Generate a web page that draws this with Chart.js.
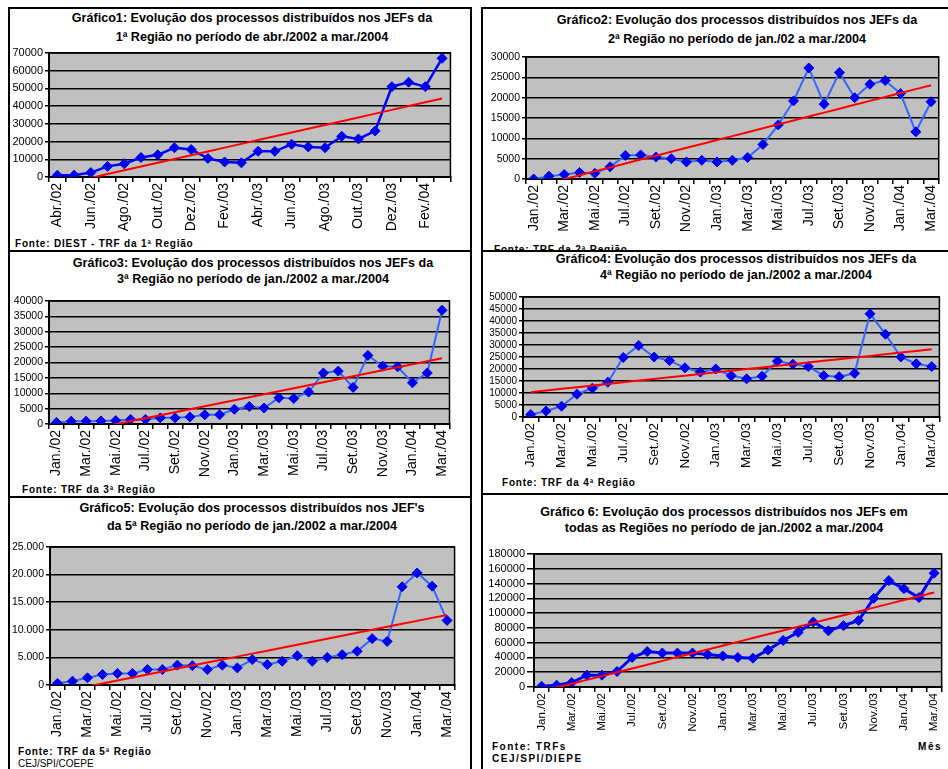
<!DOCTYPE html>
<html>
<head>
<meta charset="utf-8">
<script src="https://cdn.jsdelivr.net/npm/chart.js@4.4.1/dist/chart.umd.min.js"></script>
<style>
  body { margin: 0; width: 948px; height: 769px; overflow: hidden; background: #fff; position: relative;
         font-family: "Liberation Sans", Arial, sans-serif; color: #000; }
  .panel { position: absolute; border: 2px solid #000; background: #fff; box-sizing: border-box; }
  .tit { position: absolute; width: 520px; text-align: center; font-weight: bold; font-size: 12.6px;
         line-height: 14px; white-space: nowrap; }
  .fonte { position: absolute; font-weight: bold; font-size: 10px; letter-spacing: 0.8px; line-height: 12px; white-space: nowrap; }
  canvas { position: absolute; }
</style>
</head>
<body>

<div class="panel" style="left:8px;top:7px;width:464px;height:245px"></div>
<div class="tit" style="left:-8px;top:11px">Gráfico1: Evolução dos processos distribuídos nos JEFs da</div>
<div class="tit" style="left:-8px;top:30px">1ª Região no período de abr./2002 a mar./2004</div>
<div class="fonte" style="left:15px;top:238px">Fonte: DIEST - TRF da 1ª Região</div>
<canvas id="chart1"></canvas>

<div class="panel" style="left:481px;top:7px;width:480px;height:245px"></div>
<div class="tit" style="left:477px;top:13px">Gráfico2: Evolução dos processos distribuídos nos JEFs da</div>
<div class="tit" style="left:477px;top:32px">2ª Região no período de jan./02 a mar./2004</div>
<div class="fonte" style="left:494px;top:244px">Fonte: TRF da 2ª Região</div>
<canvas id="chart2"></canvas>

<div class="panel" style="left:8px;top:250px;width:464px;height:248px"></div>
<div class="tit" style="left:-7px;top:256px">Gráfico3: Evolução dos processos distribuídos nos JEFs da</div>
<div class="tit" style="left:-7px;top:272px">3ª Região no período de jan./2002 a mar./2004</div>
<div class="fonte" style="left:22px;top:484px">Fonte: TRF da 3ª Região</div>
<canvas id="chart3"></canvas>

<div class="panel" style="left:481px;top:250px;width:480px;height:245px"></div>
<div class="tit" style="left:476px;top:252px">Gráfico4: Evolução dos processos distribuídos nos JEFs da</div>
<div class="tit" style="left:476px;top:268px">4ª Região no período de jan./2002 a mar./2004</div>
<div class="fonte" style="left:502px;top:477px">Fonte: TRF da 4ª Região</div>
<canvas id="chart4"></canvas>

<div class="panel" style="left:8px;top:496px;width:464px;height:300px"></div>
<div class="tit" style="left:-8px;top:501px">Gráfico5: Evolução dos processos distribuídos nos JEF's</div>
<div class="tit" style="left:-8px;top:519px">da 5ª Região no período de jan./2002 a mar./2004</div>
<div class="fonte" style="left:18px;top:746px">Fonte: TRF da 5ª Região</div>
<div class="fonte" style="left:18px;top:758px;font-weight:normal;letter-spacing:0">CEJ/SPI/COEPE</div>
<canvas id="chart5"></canvas>

<div class="panel" style="left:481px;top:493px;width:480px;height:300px"></div>
<div class="tit" style="left:464px;top:505px">Gráfico 6: Evolução dos processos distribuídos nos JEFs em</div>
<div class="tit" style="left:464px;top:521px">todas as Regiões no período de jan./2002 a mar./2004</div>
<div class="fonte" style="left:492px;top:741px;letter-spacing:1.5px">Fonte: TRFs</div>
<div class="fonte" style="left:492px;top:753px;letter-spacing:1.5px">CEJ/SPI/DIEPE</div>
<div class="fonte" style="left:918px;top:741px;letter-spacing:1.6px">Mês</div>
<canvas id="chart6"></canvas>

<script>
// months, abr./2002 - mar./2004 (chart 1)
var mesesAbr02 = ['Abr./02', 'Mai./02', 'Jun./02', 'Jul./02', 'Ago./02', 'Set./02', 'Out./02', 'Nov./02', 'Dez./02',
                  'Jan./03', 'Fev./03', 'Mar./03', 'Abr./03', 'Mai./03', 'Jun./03', 'Jul./03', 'Ago./03', 'Set./03',
                  'Out./03', 'Nov./03', 'Dez./03', 'Jan./04', 'Fev./04', 'Mar./04'];
// months, jan./2002 - mar./2004 (charts 2-6)
var mesesJan02 = ['Jan./02', 'Fev./02', 'Mar./02', 'Abr./02', 'Mai./02', 'Jun./02', 'Jul./02', 'Ago./02', 'Set./02',
                  'Out./02', 'Nov./02', 'Dez./02', 'Jan./03', 'Fev./03', 'Mar./03', 'Abr./03', 'Mai./03', 'Jun./03',
                  'Jul./03', 'Ago./03', 'Set./03', 'Out./03', 'Nov./03', 'Dez./03', 'Jan./04', 'Fev./04', 'Mar./04'];

var regiao1 = [1000, 1000, 2500, 6000, 7500, 11000, 12500, 16500, 15500, 10500, 8500, 8000,
               14500, 14500, 18500, 17000, 16500, 23000, 21500, 26000, 51000, 53500, 51000, 67000];
var regiao2 = [0, 700, 1100, 1600, 1400, 3000, 5800, 5900, 5400, 5000, 4200, 4600, 4200, 4600,
               5300, 8500, 13300, 19200, 27300, 18400, 26200, 20000, 23300, 24200, 21000, 11600, 19000];
var regiao3 = [500, 900, 900, 1000, 1100, 1500, 1500, 2000, 2000, 2300, 3000, 3000, 4800, 5700,
               5200, 8500, 8300, 10400, 16600, 17200, 11900, 22300, 18800, 18600, 13400, 16600, 37000];
var regiao4 = [1000, 2500, 4500, 9500, 12000, 14500, 24800, 29800, 25000, 23500, 20500, 18700, 20000, 17200,
               15900, 17000, 23300, 22000, 21000, 17200, 16800, 18200, 43000, 34500, 25000, 22200, 21000];
var regiao5 = [300, 700, 1300, 1900, 2100, 2100, 2800, 2800, 3600, 3500, 2800, 3600, 3100, 4600,
               3700, 4300, 5300, 4300, 5000, 5500, 6100, 8400, 7900, 17800, 20300, 17900, 11700];
var todasRegioes = [1000, 2500, 6000, 16000, 16000, 21000, 40000, 48000, 46000, 46000, 46000, 44000, 42000, 40000,
                    39000, 50000, 63000, 74000, 88000, 76000, 83000, 90000, 120000, 144000, 133000, 121000, 154000];

// y axis: [max, step]
var eixo1 = [70000, 10000];
var eixo2 = [30000, 5000];
var eixo3 = [40000, 5000];
var eixo4 = [50000, 5000];
var eixo5 = [25000, 5000];
var eixo6 = [180000, 20000];

// linear trendline (least squares), like Excel's
function tendencia(v) {
    var n = v.length, sx = 0, sy = 0, sxy = 0, sxx = 0;
    v.forEach(function(y, x) { sx += x; sy += y; sxy += x * y; sxx += x * x; });
    var b = (n * sxy - sx * sy) / (n * sxx - sx * sx);
    var a = (sy - b * sx) / n;
    return v.map(function(_, x) { return a + b * x; });
}

var fundoCinza = {
    id: 'fundoCinza',
    beforeDraw: function(chart) {
        var a = chart.chartArea, ctx = chart.ctx;
        ctx.save();
        ctx.fillStyle = '#c0c0c0';
        ctx.fillRect(a.left, a.top, a.right - a.left, a.bottom - a.top);
        ctx.restore();
    },
    beforeDatasetsDraw: function(chart) {
        var a = chart.chartArea, ctx = chart.ctx;
        ctx.save();
        ctx.strokeStyle = '#000';
        ctx.lineWidth = 1.5;
        ctx.strokeRect(a.left, a.top, a.right - a.left, a.bottom - a.top);
        ctx.restore();
    }
};

function milhar(v) {
    return String(v).replace(/\B(?=(\d{3})+(?!\d))/g, '.');
}

function grafico(id, o) {
    var L = o.area[0], T = o.area[1], R = o.area[2], B = o.area[3];
    var cv = document.getElementById(id);
    var w = R - L + o.yw + 3, h = B - T + 8 + o.xh;
    cv.width = w; cv.height = h;
    cv.style.left = (L - o.yw) + 'px';
    cv.style.top = (T - 8) + 'px';
    cv.style.width = w + 'px';
    cv.style.height = h + 'px';

    new Chart(cv.getContext('2d'), {
        type: 'line',
        data: {
            labels: o.labels,
            datasets: [{
                data: tendencia(o.values),
                borderColor: '#ff0000',
                borderWidth: 2,
                pointRadius: 0,
                tension: 0
            },
            {
                data: o.values,
                borderColor: o.cor,
                borderWidth: o.lw,
                pointStyle: 'rectRot',
                pointRadius: o.pr,
                pointBackgroundColor: '#0000f0',
                pointBorderColor: '#0000f0',
                pointBorderWidth: 1,
                tension: 0
            }]
        },
        options: {
            responsive: false,
            animation: false,
            events: [],
            layout: { padding: { left: 0, top: 8, right: 3, bottom: 0 } },
            plugins: {
                legend: { display: false },
                tooltip: { enabled: false }
            },
            scales: {
                x: {
                    offset: true,
                    afterFit: function(s) { s.height = o.xh; },
                    grid: { offset: true, drawOnChartArea: false, drawTicks: true, tickLength: 5, color: '#000', lineWidth: 1.5 },
                    border: { display: true, color: '#000', width: 2 },
                    ticks: {
                        autoSkip: false, minRotation: 90, maxRotation: 90, padding: 1,
                        color: '#000', font: { family: 'Liberation Sans', size: o.xf },
                        callback: function(val, i) { return i % 2 === 0 ? o.labels[i] : ''; }
                    }
                },
                y: {
                    min: 0, max: o.eixo[0],
                    afterFit: function(s) { s.width = o.yw; },
                    grid: { color: '#000', lineWidth: 1.5, drawTicks: true, tickLength: o.tl },
                    border: { display: true, color: '#000', width: 2 },
                    ticks: {
                        stepSize: o.eixo[1], padding: 2, autoSkip: false,
                        color: '#000', font: { family: 'Liberation Sans', size: o.yf, lineHeight: 1 },
                        callback: o.fmt || function(v) { return v; }
                    }
                }
            }
        },
        plugins: [fundoCinza]
    });
}

grafico('chart1', { area: [49, 53, 457, 177], yw: 39, xh: 62, labels: mesesAbr02, values: regiao1, eixo: eixo1,
                    cor: '#0000ff', lw: 2.5, pr: 5, xf: 14, yf: 11, tl: 4 });
grafico('chart2', { area: [526, 57, 946, 179], yw: 42, xh: 62, labels: mesesJan02, values: regiao2, eixo: eixo2,
                    cor: '#3366ff', lw: 2, pr: 5, xf: 14, yf: 10.5, tl: 4 });
grafico('chart3', { area: [49, 301, 457, 424], yw: 39, xh: 62, labels: mesesJan02, values: regiao3, eixo: eixo3,
                    cor: '#3366ff', lw: 2, pr: 5, xf: 14, yf: 10.5, tl: 4 });
grafico('chart4', { area: [523, 297, 946, 417], yw: 40, xh: 62, labels: mesesJan02, values: regiao4, eixo: eixo4,
                    cor: '#3366ff', lw: 2, pr: 5, xf: 13.5, yf: 10, tl: 4 });
grafico('chart5', { area: [50, 547, 462, 685], yw: 40, xh: 62, labels: mesesJan02, values: regiao5, eixo: eixo5,
                    cor: '#3366ff', lw: 2, pr: 5, xf: 14, yf: 10.5, tl: 4, fmt: milhar });
grafico('chart6', { area: [534, 554, 946, 687], yw: 50, xh: 52, labels: mesesJan02, values: todasRegioes, eixo: eixo6,
                    cor: '#0000ff', lw: 3, pr: 5, xf: 11.5, yf: 11, tl: 7 });
</script>
</body>
</html>
